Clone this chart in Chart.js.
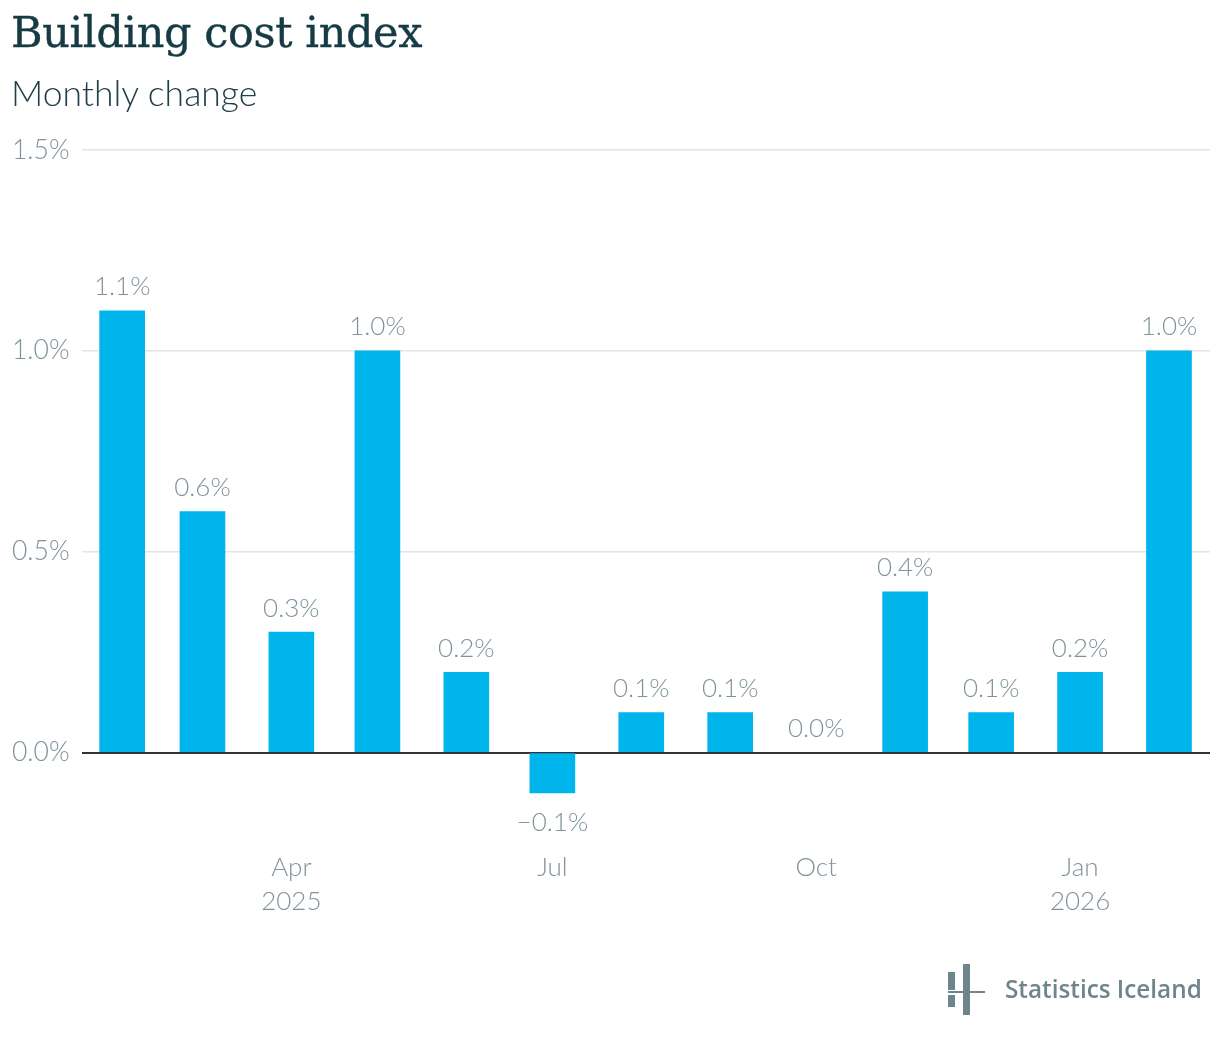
<!DOCTYPE html>
<html>
<head>
<meta charset="utf-8">
<script src="https://cdn.jsdelivr.net/npm/chart.js@4"></script>
<style>
  html, body { margin: 0; padding: 0; background: #fff; }
  #wrap { position: relative; width: 1220px; height: 1040px; }
  #chart { position: absolute; left: 0; top: 0; }
  .title { position: absolute; left: 11px; top: 7px; font-family: "DejaVu Serif", serif; font-size: 43px; color: #163b45; letter-spacing: -0.4px; -webkit-text-stroke: 0.4px #163b45; }
  .subtitle { position: absolute; left: 11px; top: 71px; font-family: Lato, sans-serif; font-weight: 300; font-size: 35.5px; color: #1f4049; }
  .logo-text { position: absolute; left: 1005px; top: 972px; font-family: "Open Sans", sans-serif; font-weight: 600; font-size: 24.3px; color: #6f858c; }
  .lg { position: absolute; background: #6f858c; }
</style>
</head>
<body>
<div id="wrap">
  <canvas id="chart" width="1220" height="1040"></canvas>
  <div class="title">Building cost index</div>
  <div class="subtitle">Monthly change</div>
  <div class="lg" style="left:948px;top:972px;width:7px;height:18px"></div>
  <div class="lg" style="left:948px;top:995px;width:7px;height:12px"></div>
  <div class="lg" style="left:963px;top:964px;width:7px;height:51px"></div>
  <div class="lg" style="left:948px;top:991px;width:37px;height:2px"></div>
  <div class="logo-text">Statistics Iceland</div>
</div>
<script>
// monthly change of the building cost index, %
const months = ['2025-02', '2025-03', '2025-04', '2025-05', '2025-06', '2025-07', '2025-08',
  '2025-09', '2025-10', '2025-11', '2025-12', '2026-01', '2026-02'];
const values = [1.1, 0.6, 0.3, 1.0, 0.2, -0.1, 0.1, 0.1, 0.0, 0.4, 0.1, 0.2, 1.0];

const tickMonths = ['2025-04', '2025-07', '2025-10', '2026-01'];
const tickLabels = [['Apr', '2025'], ['Jul'], ['Oct'], ['Jan', '2026']];
const yTicks = [0, 0.5, 1.0, 1.5];

const DAY = 86400000;
function monthToTime(s) {
  const p = s.split('-');
  return Date.UTC(+p[0], +p[1] - 1, 1);
}

function fmt(v) {
  const s = Math.abs(v).toFixed(1) + '%';
  return v < 0 ? '\u2212' + s : s;
}

const labelColor = '#7f939a';

// value labels above / below bars
const valueLabels = {
  id: 'valueLabels',
  afterDatasetsDraw(chart) {
    const ctx = chart.ctx;
    const meta = chart.getDatasetMeta(0);
    const yScale = chart.scales.y;
    ctx.save();
    ctx.font = '300 26px Lato';
    ctx.fillStyle = labelColor;
    ctx.textAlign = 'center';
    ctx.textBaseline = 'middle';
    meta.data.forEach((bar, i) => {
      const v = values[i];
      const zero = yScale.getPixelForValue(0);
      if (v < 0) {
        ctx.fillText(fmt(v), bar.x, bar.y + 30);
      } else {
        ctx.fillText(fmt(v), bar.x, Math.min(bar.y, zero) - 24);
      }
    });
    ctx.restore();
  }
};

const ctx = document.getElementById('chart').getContext('2d');
const chart = new Chart(ctx, {
  type: 'bar',
  data: {
    datasets: [{
      data: months.map((m, i) => ({ x: monthToTime(m), y: values[i] })),
      backgroundColor: c => c.raw && c.raw.y === 0 ? 'rgba(0,0,0,0)' : '#00b4ec',
      barThickness: 45,
      borderWidth: 0
    }]
  },
  options: {
    responsive: false,
    animation: false,
    layout: { padding: { left: 12, right: 10, top: 150, bottom: 107 } },
    plugins: {
      legend: { display: false },
      tooltip: { enabled: false }
    },
    scales: {
      x: {
        type: 'linear',
        min: monthToTime(months[0]) - 14 * DAY,
        max: monthToTime(months[months.length - 1]) + 14.3 * DAY,
        offset: false,
        grid: { display: false },
        border: { display: false },
        afterBuildTicks: scale => {
          scale.ticks = tickMonths.map(m => ({ value: monthToTime(m) }));
        },
        afterFit: scale => { scale.height = 100; },
        ticks: {
          autoSkip: false,
          maxRotation: 0,
          padding: 9,
          color: labelColor,
          font: { family: 'Lato', weight: '300', size: 26, lineHeight: 1.32 },
          callback: (value, index) => tickLabels[index]
        }
      },
      y: {
        min: -0.2,
        max: 1.5,
        border: { display: false },
        grid: {
          drawTicks: false,
          color: c => c.tick && c.tick.value === 0 ? '#333333' : '#e4e4e4',
          lineWidth: c => c.tick && c.tick.value === 0 ? 2 : 1.5
        },
        afterBuildTicks: scale => {
          scale.ticks = yTicks.map(v => ({ value: v }));
        },
        afterFit: scale => { scale.width = 70; },
        ticks: {
          crossAlign: 'far',
          padding: 0,
          color: labelColor,
          font: { family: 'Lato', weight: '300', size: 26.5 },
          callback: v => fmt(v)
        }
      }
    }
  },
  plugins: [valueLabels]
});
</script>
</body>
</html>
